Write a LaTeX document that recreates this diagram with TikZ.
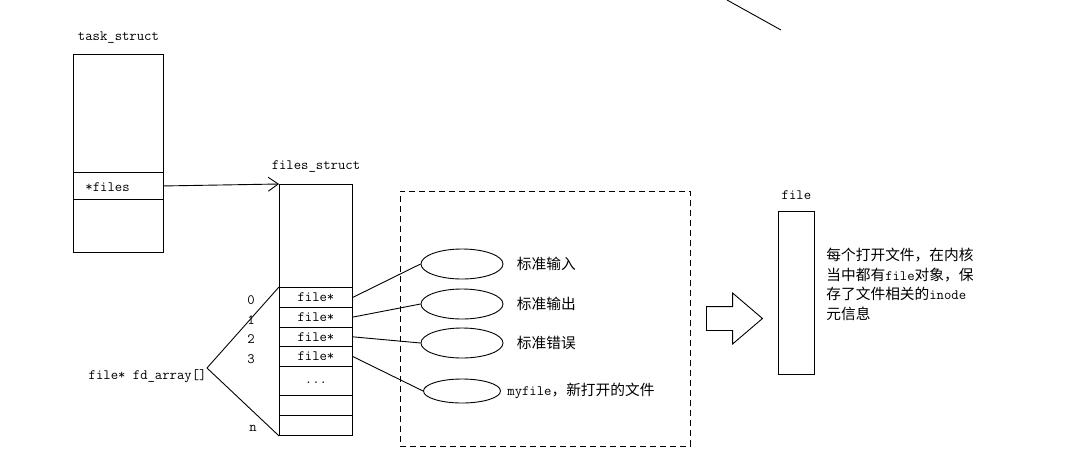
\documentclass[tikz,border=0pt]{standalone}
\usepackage{fontspec}
\setmainfont{Liberation Serif}
\newfontfamily\cjk{Noto Sans CJK SC}
\usepackage{tikz}
\usetikzlibrary{calc,positioning,arrows.meta,shapes.geometric,shapes.arrows}

\begin{document}
\begin{tikzpicture}[x=1pt,y=-1pt,line width=0.9pt]

\tikzset{box/.style={draw,inner sep=0pt,anchor=north west},
lbl/.style={font=\fontsize{14.3}{16}\selectfont\ttfamily,inner sep=0pt},
cjklbl/.style={font=\fontsize{14.7}{19.5}\selectfont\cjk,inner sep=0pt},
ell/.style={draw,ellipse,inner sep=0pt,minimum width=82pt,minimum height=30pt},
ptr/.style={-{Straight Barb[length=10pt,width=14pt]}},
bigarrow/.style={draw,single arrow,inner sep=11.5pt,single arrow head extend=13.5pt,single arrow tip angle=81,minimum height=56pt}}

\useasboundingbox (0,0) rectangle (1082,472);

% task_struct
\node[box,minimum width=90pt,minimum height=198pt] (task) at (73,54) {};
\node[lbl] (tasklbl) at ($(task.north)+(0,-16)$) {task\_struct};
\node[box,minimum width=90pt,minimum height=27pt] (files) at (73,172) {};
\node[lbl,anchor=west] (fileslbl) at (85,187) {*files};

% files_struct
\node[box,minimum width=73pt,minimum height=251pt] (fs) at (279,184) {};
\node[lbl] (fslbl) at ($(fs.north)+(0,-17)$) {files\_struct};
\draw[ptr] (files.east) -- (fs.north west);

% fd rows
\foreach \i in {0,...,3} {
  \node[box,lbl,minimum width=73pt,minimum height=19.75pt] (row\i) at (279,287+19.75*\i) {file*};
  \node[lbl] (idx\i) at ($(row\i.west)+(-28,2.5)$) {\i};
}
\node[box,minimum width=73pt,minimum height=29pt] (row4) at (279,366) {};
\node[lbl] (dots) at (316,383) {...};
\node[box,minimum width=73pt,minimum height=20pt] (row5) at (279,395) {};
\node[box,minimum width=73pt,minimum height=20pt] (row6) at (279,415) {};
\node[lbl] (idxn) at (253,428) {n};

% fd_array
\node[lbl,anchor=east] (fd) at (207,376) {file* fd\_array[]};
\coordinate (fdtip) at ($(fd.east)+(0,-8)$);
\draw (fdtip) -- (row0.north west);
\draw (fdtip) -- (fs.south west);

% open files
\node[box,dashed,dash pattern=on 6pt off 4pt,minimum width=290pt,minimum height=255pt] (heap) at (400,191) {};
\node[ell] (stdin) at (462,264) {};
\node[ell] (stdout) at (462,304) {};
\node[ell] (stderr) at (462,343) {};
\node[ell,minimum width=77pt,minimum height=24pt] (myf) at (462,391) {};
\node[cjklbl,right=13pt of stdin] (stdinlbl) {标准输入};
\node[cjklbl,right=13pt of stdout] (stdoutlbl) {标准输出};
\node[cjklbl,right=13pt of stderr] (stderrlbl) {标准错误};
\node[cjklbl,right=6pt of myf] (myflbl) {{\fontsize{14.3}{16}\selectfont\ttfamily myfile}，新打开的文件};

\draw (row0.east) -- (stdin.west);
\draw (row1.east) -- (stdout.west);
\draw (row2.east) -- (stderr.west);
\draw (row3.east) -- (myf.west);

% file object
\node[bigarrow,anchor=tail] (arr) at (706,318.5) {};
\node[box,minimum width=36pt,minimum height=163pt] (fobj) at (778,211) {};
\node[lbl] (fobjlbl) at ($(fobj.north)+(0,-16)$) {file};
\node[cjklbl,anchor=north west,align=left] (desc) at (826,248) {每个打开文件，在内核\\当中都有{\fontsize{14.3}{16}\selectfont\ttfamily file}对象，保\\存了文件相关的{\fontsize{14.3}{16}\selectfont\ttfamily inode}\\元信息};

\coordinate (ta) at (727,0);
\coordinate (tb) at (781,30);
\draw (ta) -- (tb);

\end{tikzpicture}
\end{document}
